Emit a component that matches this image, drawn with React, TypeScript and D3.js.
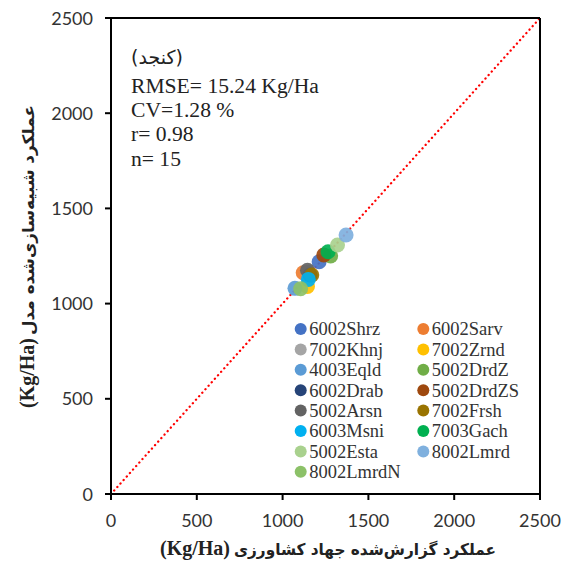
import React from "react";
import * as d3 from "d3";

const seriesNames = [
  "6002Shrz", "6002Sarv", "7002Khnj", "7002Zrnd", "4003Eqld",
  "5002DrdZ", "6002Drab", "5002DrdZS", "5002Arsn", "7002Frsh",
  "6003Msni", "7003Gach", "5002Esta", "8002Lmrd", "8002LmrdN",
];
const reportedYield = [1213, 1120, 1150, 1145, 1072, 1280, 1160, 1240, 1145, 1170, 1150, 1265, 1320, 1370, 1105];
const simulatedYield = [1220, 1162, 1165, 1090, 1080, 1250, 1150, 1255, 1175, 1150, 1127, 1272, 1308, 1360, 1078];
const seriesColors = [
  "#4472C4", "#ED7D31", "#A5A5A5", "#FFC000", "#5B9BD5",
  "#70AD47", "#264478", "#9E480E", "#636363", "#997300",
  "#00B0F0", "#00B050", "#A9D18E", "#7FB0DE", "#8CC168",
];
const tickValues = [0, 500, 1000, 1500, 2000, 2500];
const statLines = ["RMSE= 15.24 Kg/Ha", "CV=1.28 %", "r= 0.98", "n= 15"];
const cropLabel = "(کنجد)";
const xTitleFa = "عملکرد  گزارش\u200cشده جهاد کشاورزی";
const yTitleFa = "عملکرد  شبیه\u200cسازی\u200cشده مدل";
const unitLabel = "(Kg/Ha)";

const W = 568;
const H = 565;
const L = 111, R = 540, T = 18, B = 494;

export default function App() {
  const x = d3.scaleLinear().domain([0, 2500]).range([L, R]);
  const y = d3.scaleLinear().domain([0, 2500]).range([B, T]);
  const serif = "'Liberation Serif', 'Times New Roman', serif";
  const tickFont = "Lato, 'Liberation Sans', sans-serif";
  const faFont = "'DejaVu Sans', sans-serif";
  const diag = d3.line<number>().x((d) => x(d)).y((d) => y(d))([0, 2500]) || "";

  return (
    <svg width={W} height={H} style={{ position: "absolute", left: 0, top: 0, background: "#fff" }}>
      <rect x={0} y={0} width={W} height={H} fill="#fff" />
      {/* diagonal 1:1 line */}
      <path d={diag} stroke="#FF0000" strokeWidth={2.3} strokeDasharray="0.1 4.6" strokeLinecap="round" fill="none" />

      {/* frame */}
      <line x1={L} x2={R} y1={T} y2={T} stroke="#000" strokeWidth={2} />
      <line x1={R} x2={R} y1={T} y2={B} stroke="#000" strokeWidth={2} />
      <line x1={L} x2={L} y1={T - 1} y2={B + 1} stroke="#000" strokeWidth={2} />
      <line x1={L - 1} x2={R + 1} y1={B} y2={B} stroke="#000" strokeWidth={2} />

      {/* y ticks */}
      {tickValues.map((t) => (
        <g key={"y" + t}>
          <line x1={L - 6} x2={L} y1={y(t)} y2={y(t)} stroke="#000" strokeWidth={2} />
          <text x={93} y={y(t) + 6.5} textAnchor="end" fontFamily={tickFont} fontSize={18} fill="#333">
            {t}
          </text>
        </g>
      ))}
      {/* x ticks */}
      {tickValues.map((t) => (
        <g key={"x" + t}>
          <line x1={x(t)} x2={x(t)} y1={B} y2={B + 6} stroke="#000" strokeWidth={2} />
          <text x={x(t)} y={527} textAnchor="middle" fontFamily={tickFont} fontSize={18} fill="#333">
            {t}
          </text>
        </g>
      ))}

      {/* points */}
      {seriesNames.map((n, i) => (
        <circle key={n} cx={x(reportedYield[i])} cy={y(simulatedYield[i])} r={7.5} fill={seriesColors[i]} opacity={0.92} />
      ))}

      {/* stats */}
      <text x={157} y={64} textAnchor="middle" direction="rtl" fontFamily={faFont} fontSize={19} fill="#222">
        {cropLabel}
      </text>
      {statLines.map((s, i) => (
        <text key={s} x={131} y={93 + i * 24.2} fontFamily={serif} fontSize={21.6} fill="#222">
          {s}
        </text>
      ))}

      {/* legend */}
      {seriesNames.map((n, i) => {
        const row = Math.floor(i / 2);
        const col = i % 2;
        const cx = col === 0 ? 300.7 : 423.3;
        const cy = 329 + row * 20.4;
        return (
          <g key={"lg" + n}>
            <circle cx={cx} cy={cy} r={6} fill={seriesColors[i]} />
            <text x={cx + 8.5} y={cy + 6.3} fontFamily={serif} fontSize={18.5} fill="#333">
              {n}
            </text>
          </g>
        );
      })}

      {/* x title */}
      <text x={195} y={555} textAnchor="middle" fontFamily={serif} fontWeight="bold" fontSize={20} fill="#222">
        {unitLabel}
      </text>
      <text x={365} y={555} textAnchor="middle" direction="rtl" fontFamily={faFont} fontWeight="bold" fontSize={16}
        textLength={262} lengthAdjust="spacingAndGlyphs" fill="#222">
        {xTitleFa}
      </text>

      {/* y title */}
      <g transform="translate(34, 256) rotate(-90)">
        <text x={-117} y={0} textAnchor="middle" fontFamily={serif} fontWeight="bold" fontSize={20} fill="#222">
          {unitLabel}
        </text>
        <text x={36} y={0} textAnchor="middle" direction="rtl" fontFamily={faFont} fontWeight="bold" fontSize={16}
          textLength={230} lengthAdjust="spacingAndGlyphs" fill="#222">
          {yTitleFa}
        </text>
      </g>
    </svg>
  );
}
